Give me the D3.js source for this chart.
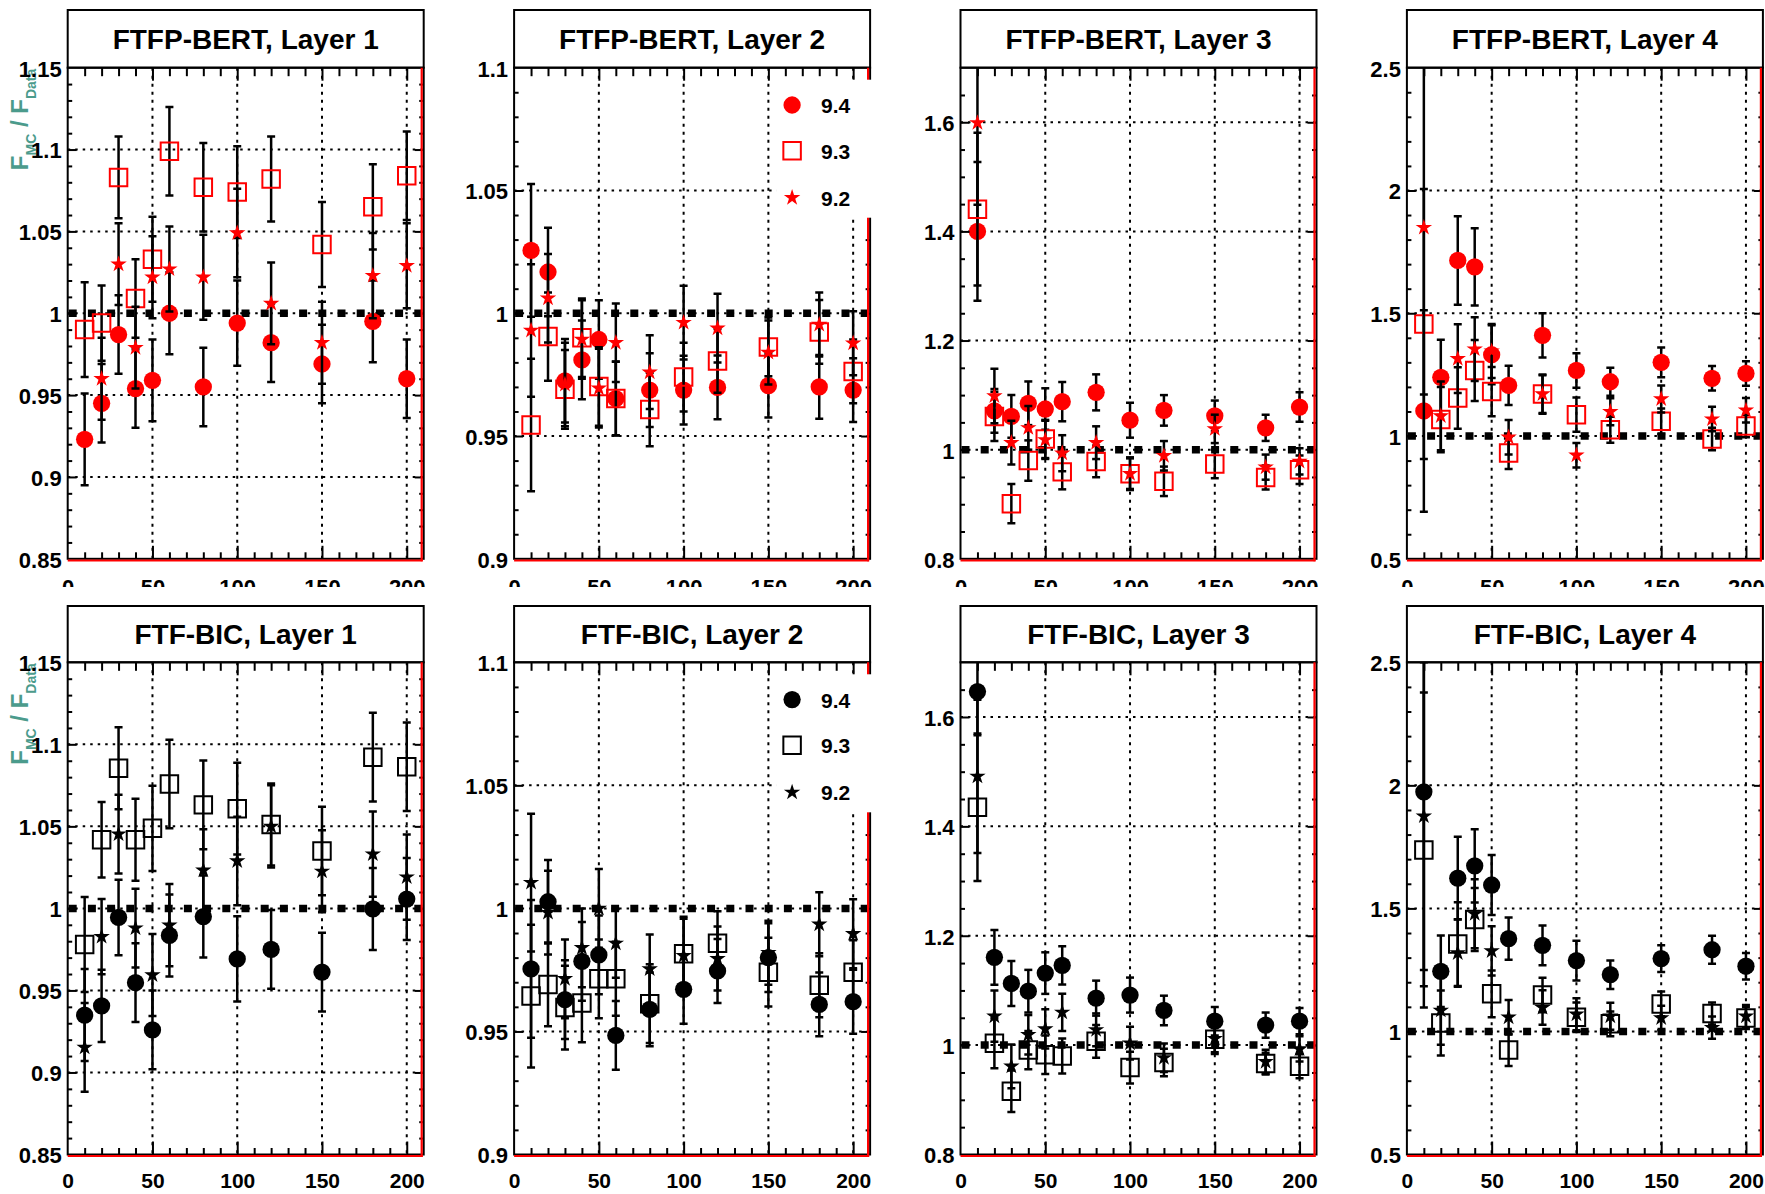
<!DOCTYPE html>
<html>
<head>
<meta charset="utf-8">
<script src="https://cdn.jsdelivr.net/npm/d3@7"></script>
<style>
  body { margin: 0; background: #fff; }
  svg { display: block; }
  text { font-family: "Liberation Sans", Arial, Helvetica, sans-serif; font-weight: bold; }
</style>
</head>
<body>
<svg id="chart" width="1765" height="1194"></svg>
<script>
// Beam energies (GeV) shared by every panel
const energies = [10, 20, 30, 40, 50, 60, 80, 100, 120, 150, 180, 200];
const versions = ["9.4", "9.3", "9.2"];
const physicsLists = ["FTFP-BERT", "FTF-BIC"];
const layerNames = ["Layer 1", "Layer 2", "Layer 3", "Layer 4"];

// x axis
const xDomain = [0, 210];
const xLabelValues = [0, 50, 100, 150, 200];
const xLabels = ["0", "50", "100", "150", "200"];

// y axis per layer
const yDomains = [[0.85, 1.15], [0.9, 1.1], [0.8, 1.7], [0.5, 2.5]];
const yLabelValues = [
  [0.85, 0.9, 0.95, 1.0, 1.05, 1.1, 1.15],
  [0.9, 0.95, 1.0, 1.05, 1.1],
  [0.8, 1.0, 1.2, 1.4, 1.6],
  [0.5, 1.0, 1.5, 2.0, 2.5]
];
const yLabels = [
  ["0.85", "0.9", "0.95", "1", "1.05", "1.1", "1.15"],
  ["0.9", "0.95", "1", "1.05", "1.1"],
  ["0.8", "1", "1.2", "1.4", "1.6"],
  ["0.5", "1", "1.5", "2", "2.5"]
];
const yMinorStep = [0.01, 0.01, 0.05, 0.1];

// ---- FTFP-BERT ----
const bert1_v94     = [0.923, 0.945, 0.987, 0.954, 0.959, 1.000, 0.955, 0.994, 0.982, 0.969, 0.995, 0.960];
const bert1_v94_err = [0.028, 0.024, 0.024, 0.024, 0.025, 0.025, 0.024, 0.026, 0.024, 0.024, 0.025, 0.024];
const bert1_v93     = [0.990, 0.994, 1.083, 1.009, 1.033, 1.099, 1.077, 1.074, 1.082, 1.042, 1.065, 1.084];
const bert1_v93_err = [0.029, 0.023, 0.025, 0.024, 0.026, 0.027, 0.027, 0.028, 0.026, 0.026, 0.026, 0.027];
const bert1_v92     = [null, 0.960, 1.030, 0.979, 1.022, 1.027, 1.022, 1.049, 1.006, 0.982, 1.023, 1.029];
const bert1_v92_err = [null, 0.025, 0.025, 0.025, 0.025, 0.026, 0.026, 0.027, 0.025, 0.025, 0.026, 0.026];

const bert2_v94     = [1.0256, 1.0168, 0.9725, 0.981, 0.9893, 0.9652, 0.9687, 0.9687, 0.9698, 0.9705, 0.970, 0.9687];
const bert2_v94_err = [0.027, 0.018, 0.017, 0.016, 0.016, 0.015, 0.015, 0.014, 0.013, 0.013, 0.013, 0.013];
const bert2_v93     = [0.9545, 0.9905, 0.969, 0.990, 0.9702, 0.9653, 0.9608, 0.974, 0.9806, 0.9863, 0.9924, 0.9763];
const bert2_v93_err = [0.027, 0.018, 0.016, 0.016, 0.016, 0.015, 0.015, 0.014, 0.013, 0.012, 0.013, 0.013];
const bert2_v92     = [0.993, 1.0061, 0.971, 0.9893, 0.9695, 0.988, 0.976, 0.9962, 0.9939, 0.984, 0.9954, 0.9878];
const bert2_v92_err = [0.027, 0.018, 0.017, 0.016, 0.016, 0.016, 0.015, 0.015, 0.014, 0.013, 0.013, 0.013];

const bert3_v94     = [1.400, 1.071, 1.061, 1.085, 1.0745, 1.088, 1.105, 1.054, 1.072, 1.062, 1.040, 1.078];
const bert3_v94_err = [0.127, 0.040, 0.039, 0.040, 0.038, 0.036, 0.033, 0.032, 0.028, 0.028, 0.024, 0.027];
const bert3_v93     = [1.4407, 1.061, 0.901, 0.980, 1.0196, 0.9593, 0.9785, 0.956, 0.942, 0.9737, 0.949, 0.9633];
const bert3_v93_err = [0.140, 0.045, 0.036, 0.037, 0.035, 0.032, 0.029, 0.028, 0.027, 0.026, 0.022, 0.026];
const bert3_v92     = [1.599, 1.0985, 1.0128, 1.040, 1.018, 0.9935, 1.0128, 0.956, 0.9888, 1.0381, 0.968, 0.9785];
const bert3_v92_err = [0.150, 0.050, 0.040, 0.040, 0.035, 0.033, 0.030, 0.030, 0.027, 0.026, 0.023, 0.024];

const bert4_v94     = [1.102, 1.239, 1.715, 1.689, 1.331, 1.206, 1.410, 1.267, 1.221, 1.300, 1.235, 1.255];
const bert4_v94_err = [0.410, 0.153, 0.180, 0.157, 0.120, 0.080, 0.090, 0.070, 0.057, 0.061, 0.050, 0.050];
const bert4_v93     = [1.456, 1.067, 1.155, 1.267, 1.181, 0.931, 1.171, 1.087, 1.026, 1.060, 0.988, 1.041];
const bert4_v93_err = [0.550, 0.133, 0.125, 0.124, 0.100, 0.065, 0.077, 0.070, 0.053, 0.052, 0.046, 0.046];
const bert4_v92     = [1.849, 1.082, 1.315, 1.354, 1.346, 0.995, 1.171, 0.922, 1.099, 1.151, 1.069, 1.105];
const bert4_v92_err = [0.680, 0.140, 0.140, 0.130, 0.110, 0.070, 0.080, 0.050, 0.055, 0.055, 0.050, 0.050];

// ---- FTF-BIC ----
const bic1_v94     = [0.935, 0.9406, 0.9945, 0.9547, 0.9259, 0.9835, 0.995, 0.9692, 0.975, 0.9612, 0.9997, 1.0057];
const bic1_v94_err = [0.028, 0.022, 0.023, 0.024, 0.024, 0.025, 0.025, 0.026, 0.024, 0.024, 0.025, 0.025];
const bic1_v93     = [0.978, 1.0418, 1.0854, 1.0418, 1.0488, 1.0758, 1.0631, 1.0608, 1.0512, 1.035, 1.0922, 1.0863];
const bic1_v93_err = [0.029, 0.023, 0.025, 0.025, 0.026, 0.027, 0.027, 0.028, 0.025, 0.027, 0.027, 0.027];
const bic1_v92     = [0.9153, 0.9828, 1.0453, 0.988, 0.9594, 0.9898, 1.0233, 1.0289, 1.050, 1.0226, 1.0331, 1.0191];
const bic1_v92_err = [0.027, 0.023, 0.024, 0.024, 0.025, 0.025, 0.025, 0.027, 0.025, 0.025, 0.026, 0.026];

const bic2_v94     = [0.9754, 1.0027, 0.9629, 0.9785, 0.9811, 0.9484, 0.959, 0.9671, 0.9746, 0.980, 0.961, 0.9621];
const bic2_v94_err = [0.028, 0.017, 0.016, 0.016, 0.016, 0.014, 0.015, 0.014, 0.013, 0.014, 0.013, 0.013];
const bic2_v93     = [0.9644, 0.9691, 0.9597, 0.9616, 0.9714, 0.9714, 0.9613, 0.9816, 0.9858, 0.9741, 0.9688, 0.9741];
const bic2_v93_err = [0.029, 0.017, 0.017, 0.016, 0.016, 0.015, 0.016, 0.015, 0.013, 0.014, 0.013, 0.013];
const bic2_v92     = [1.0105, 0.9983, 0.9714, 0.984, 1.000, 0.9858, 0.9754, 0.9808, 0.9796, 0.982, 0.9936, 0.9897];
const bic2_v92_err = [0.028, 0.017, 0.016, 0.016, 0.016, 0.014, 0.014, 0.015, 0.013, 0.013, 0.013, 0.014];

const bic3_v94     = [1.6465, 1.1606, 1.1127, 1.0986, 1.1317, 1.1458, 1.0859, 1.0915, 1.0634, 1.0437, 1.0366, 1.0437];
const bic3_v94_err = [0.080, 0.050, 0.041, 0.039, 0.038, 0.035, 0.032, 0.032, 0.027, 0.026, 0.023, 0.024];
const bic3_v93     = [1.435, 1.0035, 0.9155, 0.991, 0.9824, 0.9803, 1.007, 0.959, 0.9683, 1.0106, 0.9662, 0.9613];
const bic3_v93_err = [0.135, 0.046, 0.038, 0.035, 0.035, 0.032, 0.030, 0.029, 0.025, 0.027, 0.020, 0.022];
const bic3_v92     = [1.4915, 1.053, 0.9613, 1.019, 1.0296, 1.060, 1.028, 1.0035, 0.9768, 1.012, 0.9697, 0.993];
const bic3_v92_err = [0.140, 0.047, 0.040, 0.036, 0.036, 0.034, 0.030, 0.030, 0.026, 0.025, 0.022, 0.023];

const bic4_v94     = [1.9735, 1.2445, 1.623, 1.673, 1.595, 1.377, 1.350, 1.288, 1.2305, 1.296, 1.332, 1.265];
const bic4_v94_err = [0.790, 0.145, 0.168, 0.149, 0.122, 0.086, 0.081, 0.081, 0.058, 0.054, 0.057, 0.054];
const bic4_v93     = [1.737, 1.034, 1.355, 1.455, 1.153, 0.925, 1.148, 1.058, 1.031, 1.112, 1.073, 1.0545];
const bic4_v93_err = [0.640, 0.132, 0.170, 0.128, 0.095, 0.065, 0.070, 0.060, 0.050, 0.050, 0.045, 0.045];
const bic4_v92     = [1.875, 1.0857, 1.319, 1.478, 1.327, 1.058, 1.097, 1.070, 1.062, 1.0545, 1.0156, 1.062];
const bic4_v92_err = [0.625, 0.140, 0.137, 0.140, 0.100, 0.070, 0.070, 0.065, 0.055, 0.050, 0.045, 0.045];

const panelSeries = [
  [
    [[bert1_v94, bert1_v94_err], [bert1_v93, bert1_v93_err], [bert1_v92, bert1_v92_err]],
    [[bert2_v94, bert2_v94_err], [bert2_v93, bert2_v93_err], [bert2_v92, bert2_v92_err]],
    [[bert3_v94, bert3_v94_err], [bert3_v93, bert3_v93_err], [bert3_v92, bert3_v92_err]],
    [[bert4_v94, bert4_v94_err], [bert4_v93, bert4_v93_err], [bert4_v92, bert4_v92_err]]
  ],
  [
    [[bic1_v94, bic1_v94_err], [bic1_v93, bic1_v93_err], [bic1_v92, bic1_v92_err]],
    [[bic2_v94, bic2_v94_err], [bic2_v93, bic2_v93_err], [bic2_v92, bic2_v92_err]],
    [[bic3_v94, bic3_v94_err], [bic3_v93, bic3_v93_err], [bic3_v92, bic3_v92_err]],
    [[bic4_v94, bic4_v94_err], [bic4_v93, bic4_v93_err], [bic4_v92, bic4_v92_err]]
  ]
];
const rowColors = ["#ff0000", "#000000"];

// ---- layout ----
const plotW = 356, colX0 = 67.7, colDx = 446.4;
const rows = [
  { titleTop: 10, top: 67.7, bottom: 558.8 },
  { titleTop: 606, top: 662.3, bottom: 1154.5 }
];
const teal = "#4b9b8c";
const fontFamily = '"Liberation Sans", Arial, Helvetica, sans-serif';

const symbolTypes = [d3.symbolCircle, d3.symbolSquare, d3.symbolStar];
const symbolSizes = [235, 306, 84];

const svg = d3.select("#chart");

function range(a, b, step) {
  const out = [];
  const n = Math.round((b - a) / step);
  for (let i = 0; i <= n; i++) out.push(+(a + i * step).toFixed(4));
  return out;
}

function tickAxis(g, axisFn, scale, values, size) {
  g.call(axisFn(scale).tickValues(values).tickSize(size).tickFormat(""));
  g.select(".domain").remove();
  g.selectAll(".tick line").attr("stroke", "#000").attr("stroke-width", 2);
}

function drawMarker(sel, s, color) {
  sel.attr("d", d3.symbol().type(symbolTypes[s]).size(symbolSizes[s]));
  if (s === 1) sel.attr("fill", "none").attr("stroke", color).attr("stroke-width", 2);
  else sel.attr("fill", color).attr("stroke", "none");
}

function drawPanel(r, c) {
  const row = rows[r];
  const left = colX0 + colDx * c, right = left + plotW;
  const color = rowColors[r];
  const g = svg.append("g");
  const x = d3.scaleLinear().domain(xDomain).range([left, right]);
  const y = d3.scaleLinear().domain(yDomains[c]).range([row.bottom, row.top]);

  // title box
  g.append("rect")
    .attr("x", left).attr("y", row.titleTop)
    .attr("width", plotW).attr("height", row.top - row.titleTop)
    .attr("fill", "#fff").attr("stroke", "#000").attr("stroke-width", 2);
  g.append("text")
    .attr("x", left + plotW / 2).attr("y", (row.titleTop + row.top) / 2 + 10)
    .attr("text-anchor", "middle").attr("font-size", 28).attr("fill", "#000")
    .text(`${physicsLists[r]}, ${layerNames[c]}`);

  const clipId = `clip-${r}-${c}`;
  g.append("clipPath").attr("id", clipId)
    .append("rect").attr("x", left).attr("y", row.top)
    .attr("width", plotW).attr("height", row.bottom - row.top);
  const plot = g.append("g").attr("clip-path", `url(#${clipId})`);

  // dotted grid at the labelled ticks
  const dom = yDomains[c];
  const yGrid = yLabelValues[c].filter(v => v > dom[0] + 1e-9 && v < dom[1] - 1e-9);
  plot.append("g").selectAll("line").data(yGrid).join("line")
    .attr("x1", left).attr("x2", right)
    .attr("y1", d => y(d)).attr("y2", d => y(d))
    .attr("stroke", "#000").attr("stroke-width", 2).attr("stroke-dasharray", "2.5 5");
  plot.append("g").selectAll("line").data(xLabelValues.filter(v => v > 0)).join("line")
    .attr("x1", d => x(d)).attr("x2", d => x(d))
    .attr("y1", row.top).attr("y2", row.bottom)
    .attr("stroke", "#000").attr("stroke-width", 2).attr("stroke-dasharray", "3 5");

  // reference line at unity
  plot.append("line")
    .attr("x1", left + 1).attr("x2", right)
    .attr("y1", y(1)).attr("y2", y(1))
    .attr("stroke", "#000").attr("stroke-width", 7.5).attr("stroke-dasharray", "8 11.2");

  // series: error bars then markers, one version at a time
  panelSeries[r][c].forEach(([vals, errs], s) => {
    const pts = energies.map((e, i) => ({ e, v: vals[i], err: errs[i] })).filter(d => d.v != null);
    const sg = plot.append("g");
    const bars = sg.append("g").attr("stroke", "#000").attr("stroke-width", 2.5);
    bars.selectAll("line.bar").data(pts).join("line").attr("class", "bar")
      .attr("x1", d => x(d.e)).attr("x2", d => x(d.e))
      .attr("y1", d => y(d.v - d.err)).attr("y2", d => y(d.v + d.err));
    const caps = pts.flatMap(d => [{ e: d.e, v: d.v - d.err }, { e: d.e, v: d.v + d.err }]);
    bars.selectAll("line.cap").data(caps).join("line").attr("class", "cap")
      .attr("x1", d => x(d.e) - 4).attr("x2", d => x(d.e) + 4)
      .attr("y1", d => y(d.v)).attr("y2", d => y(d.v));
    sg.append("g").selectAll("path").data(pts).join("path")
      .attr("transform", d => `translate(${x(d.e)},${y(d.v)})`)
      .call(sel => drawMarker(sel, s, color));
  });

  // frame
  g.append("rect").attr("x", left).attr("y", row.top)
    .attr("width", plotW).attr("height", row.bottom - row.top)
    .attr("fill", "none").attr("stroke", "#000").attr("stroke-width", 2);

  // ticks on all four sides
  const xMajor = [50, 100, 150, 200];
  const xMinor = range(10, 200, 10).filter(v => !xMajor.includes(v));
  const yMajor = yLabelValues[c].filter(v => v > dom[0] + 1e-9 && v < dom[1] - 1e-9);
  const yMinor = range(dom[0], dom[1], yMinorStep[c])
    .filter(v => v > dom[0] + 1e-9 && v < dom[1] - 1e-9 && !yMajor.some(m => Math.abs(m - v) < 1e-6));

  tickAxis(g.append("g").attr("transform", `translate(0,${row.top})`), d3.axisTop, x, xMinor, -8.5);
  tickAxis(g.append("g").attr("transform", `translate(0,${row.top})`), d3.axisTop, x, xMajor, -13);
  tickAxis(g.append("g").attr("transform", `translate(0,${row.bottom})`), d3.axisBottom, x, xMinor, -6.5);
  tickAxis(g.append("g").attr("transform", `translate(0,${row.bottom})`), d3.axisBottom, x, xMajor, -13);
  tickAxis(g.append("g").attr("transform", `translate(${left},0)`), d3.axisLeft, y, yMinor, -4.5);
  tickAxis(g.append("g").attr("transform", `translate(${left},0)`), d3.axisLeft, y, yMajor, -9);
  tickAxis(g.append("g").attr("transform", `translate(${right},0)`), d3.axisRight, y, yMinor, -4.5);
  tickAxis(g.append("g").attr("transform", `translate(${right},0)`), d3.axisRight, y, yMajor, -9);

  // red edge lines on the right and bottom
  g.append("line").attr("x1", right - 2).attr("x2", right - 2)
    .attr("y1", row.top).attr("y2", row.bottom + 2.5)
    .attr("stroke", "#ff0000").attr("stroke-width", 2.2);
  g.append("line").attr("x1", left).attr("x2", right - 1)
    .attr("y1", row.bottom + 1.6).attr("y2", row.bottom + 1.6)
    .attr("stroke", "#ff0000").attr("stroke-width", 2);

  // legend on the layer-2 panels
  if (c === 1) {
    const lg = g.append("g");
    lg.append("rect").attr("x", left + 262).attr("y", row.top + 12)
      .attr("width", 102).attr("height", 138).attr("fill", "#fff");
    const rowsY = [37.3, 83, 130];
    versions.forEach((v, s) => {
      lg.append("path")
        .attr("transform", `translate(${left + 278},${row.top + rowsY[s]})`)
        .call(sel => drawMarker(sel, s, color));
      lg.append("text").attr("x", left + 307).attr("y", row.top + rowsY[s] + 8)
        .attr("font-size", 21).attr("fill", "#000").text(v);
    });
  }

  // axis title on the layer-1 panels
  if (c === 0) {
    const t = g.append("text")
      .attr("transform", `translate(27.5,${row.top + 1}) rotate(-90)`)
      .attr("text-anchor", "end").attr("fill", teal).attr("font-size", 24);
    t.append("tspan").text("F");
    t.append("tspan").attr("font-size", 14).attr("dy", 8.5).text("MC");
    t.append("tspan").attr("font-size", 24).attr("dy", -8.5).text(" / F");
    t.append("tspan").attr("font-size", 14).attr("dy", 8.5).text("Data");
  }

  // tick labels
  const yl = g.append("g").attr("transform", `translate(${left},0)`)
    .call(d3.axisLeft(y).tickValues(yLabelValues[c])
      .tickFormat((d, i) => yLabels[c][i]).tickSize(0).tickPadding(6));
  yl.select(".domain").remove();
  yl.attr("font-size", 22).attr("font-family", fontFamily).attr("font-weight", "bold");
  yl.selectAll("text").attr("fill", "#000").attr("dy", "0.38em");

  const xl = g.append("g").attr("transform", `translate(0,${row.bottom})`)
    .call(d3.axisBottom(x).tickValues(xLabelValues)
      .tickFormat((d, i) => xLabels[i]).tickSize(0).tickPadding(r === 0 ? 21 : 19));
  xl.select(".domain").remove();
  xl.attr("font-size", r === 0 ? 22 : 21).attr("font-family", fontFamily).attr("font-weight", "bold");
  xl.selectAll("text").attr("fill", "#000");
}

// top row
for (let c = 0; c < 4; c++) drawPanel(0, c);
// the lower pads sit on a white background that starts just under the upper axes
svg.append("rect").attr("x", 0).attr("y", 587).attr("width", 1765).attr("height", 1194 - 587).attr("fill", "#fff");
for (let c = 0; c < 4; c++) drawPanel(1, c);
</script>
</body>
</html>
